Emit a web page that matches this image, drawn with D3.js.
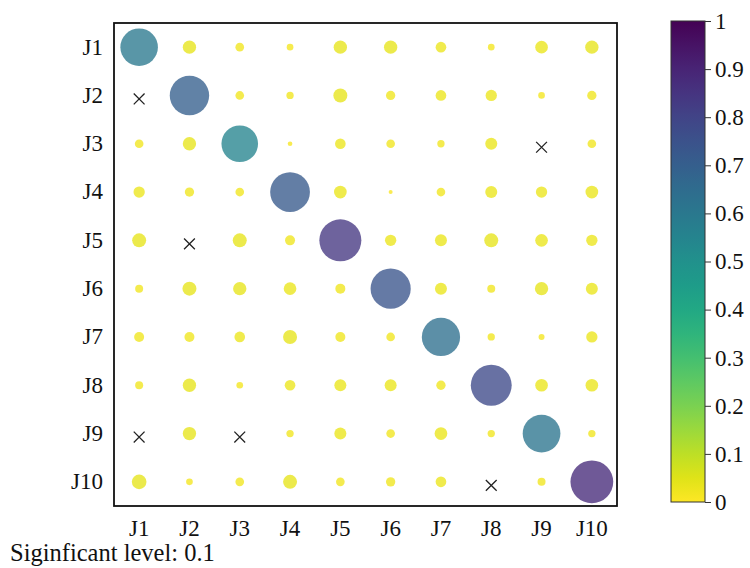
<!DOCTYPE html>
<html>
<head>
<meta charset="utf-8">
<script src="https://d3js.org/d3.v7.min.js"></script>
<style>
  body { margin: 0; background: #fff; }
</style>
</head>
<body>
<div id="chart"></div>
<script>

// variable names (rows and columns)
var labels = ["J1", "J2", "J3", "J4", "J5", "J6", "J7", "J8", "J9", "J10"];

// coefficient matrix; null = not significant (drawn as a cross)
var row1  = [0.60, 0.036, 0.0234, 0.018, 0.036, 0.036, 0.0288, 0.018, 0.0342, 0.036];
var row2  = [null, 0.70, 0.0234, 0.0198, 0.0378, 0.0252, 0.0288, 0.0306, 0.018, 0.0252];
var row3  = [0.0234, 0.036, 0.55, 0.0126, 0.0288, 0.0234, 0.0198, 0.0324, null, 0.0234];
var row4  = [0.0306, 0.0252, 0.0234, 0.72, 0.0342, 0.0108, 0.0234, 0.0324, 0.0306, 0.0342];
var row5  = [0.0378, null, 0.0378, 0.027, 0.84, 0.0306, 0.0324, 0.0378, 0.0342, 0.0306];
var row6  = [0.0216, 0.0378, 0.036, 0.0342, 0.027, 0.74, 0.0324, 0.0216, 0.036, 0.0324];
var row7  = [0.027, 0.027, 0.0288, 0.0378, 0.027, 0.0234, 0.64, 0.0198, 0.0162, 0.0306];
var row8  = [0.0216, 0.036, 0.018, 0.0288, 0.0324, 0.0324, 0.0252, 0.78, 0.0342, 0.0342];
var row9  = [null, 0.036, null, 0.0198, 0.0324, 0.0234, 0.0342, 0.0198, 0.61, 0.0198];
var row10 = [0.0396, 0.018, 0.0234, 0.0378, 0.0234, 0.0252, 0.0288, null, 0.0216, 0.88];

// colorbar ticks
var barTicks = [0, 0.1, 0.2, 0.3, 0.4, 0.5, 0.6, 0.7, 0.8, 0.9, 1];

var note = "Siginficant level: 0.1";

var rows = [row1, row2, row3, row4, row5, row6, row7, row8, row9, row10];

var W = 750, H = 568;
var plot = {left: 114, top: 23, right: 617, bottom: 506};
var serif = "'Liberation Serif', 'Times New Roman', serif";

var svg = d3.select("#chart")
  .append("svg")
    .attr("width", W)
    .attr("height", H);

var x = d3.scaleBand().domain(labels).range([plot.left, plot.right]);
var y = d3.scaleBand().domain(labels).range([plot.top, plot.bottom]);

// circle size: small values get visible dots, big values grow slowly
var r = d3.scaleLinear().domain([0, 0.04, 0.55, 1]).range([0, 7.4, 18.3, 22.5]);
var color = function(v) { return d3.interpolateViridis(1 - v); };

// flatten into cells
var cells = [];
rows.forEach(function(row, i) {
  row.forEach(function(v, j) {
    cells.push({row: labels[i], col: labels[j], value: v});
  });
});

// circles
svg.append("g")
  .selectAll("circle")
  .data(cells.filter(function(d) { return d.value !== null; }))
  .enter().append("circle")
    .attr("cx", function(d) { return x(d.col) + x.bandwidth() / 2; })
    .attr("cy", function(d) { return y(d.row) + y.bandwidth() / 2; })
    .attr("r", function(d) { return r(d.value); })
    .attr("fill", function(d) { return color(d.value); })
    .attr("fill-opacity", 0.78);

// crosses for non significant cells
svg.append("g")
  .selectAll("path")
  .data(cells.filter(function(d) { return d.value === null; }))
  .enter().append("path")
    .attr("transform", function(d) {
      return "translate(" + (x(d.col) + x.bandwidth() / 2) + "," + (y(d.row) + y.bandwidth() / 2 + 3.5) + ")";
    })
    .attr("d", d3.symbol(d3.symbolX, 78))
    .attr("fill", "none")
    .attr("stroke", "#222")
    .attr("stroke-width", 1.3);

// frame
svg.append("rect")
  .attr("x", plot.left)
  .attr("y", plot.top)
  .attr("width", plot.right - plot.left)
  .attr("height", plot.bottom - plot.top)
  .attr("fill", "none")
  .attr("stroke", "#111")
  .attr("stroke-width", 1.8);

// axes
var yAxis = svg.append("g")
  .attr("transform", "translate(" + plot.left + ",0)")
  .call(d3.axisLeft(y).tickSize(0).tickPadding(11));
var xAxis = svg.append("g")
  .attr("transform", "translate(0," + plot.bottom + ")")
  .call(d3.axisBottom(x).tickSize(0).tickPadding(14));
[xAxis, yAxis].forEach(function(g) {
  g.attr("font-family", null).attr("font-size", null);
  g.select(".domain").remove();
  g.selectAll("text")
    .style("font-family", serif)
    .style("font-size", "23px")
    .attr("fill", "#111");
});

// colorbar
var bar = {x: 671, w: 34, top: 21, bottom: 502};
var cy = d3.scaleLinear().domain([0, 1]).range([bar.bottom, bar.top]);

var grad = svg.append("defs").append("linearGradient")
  .attr("id", "viridis")
  .attr("x1", "0").attr("y1", "1").attr("x2", "0").attr("y2", "0");
d3.range(0, 1.0001, 0.05).forEach(function(t) {
  grad.append("stop")
    .attr("offset", t)
    .attr("stop-color", color(t));
});

svg.append("rect")
  .attr("x", bar.x)
  .attr("y", bar.top)
  .attr("width", bar.w)
  .attr("height", bar.bottom - bar.top)
  .attr("fill", "url(#viridis)")
  .attr("stroke", "#333")
  .attr("stroke-width", 1);

var cAxis = svg.append("g")
  .attr("transform", "translate(" + (bar.x + bar.w) + ",0)")
  .call(d3.axisRight(cy).tickValues(barTicks).tickSize(6).tickPadding(4)
    .tickFormat(function(d) { return +d.toFixed(1); }));
cAxis.attr("font-family", null).attr("font-size", null);
cAxis.select(".domain").remove();
cAxis.selectAll("line").attr("stroke", "#333");
cAxis.selectAll("text")
  .style("font-family", serif)
  .style("font-size", "23px")
  .attr("fill", "#111");

// note under the chart
svg.append("text")
  .attr("x", 10)
  .attr("y", 561)
  .style("font-family", serif)
  .style("font-size", "24.5px")
  .attr("fill", "#111")
  .text(note);

</script>
</body>
</html>
